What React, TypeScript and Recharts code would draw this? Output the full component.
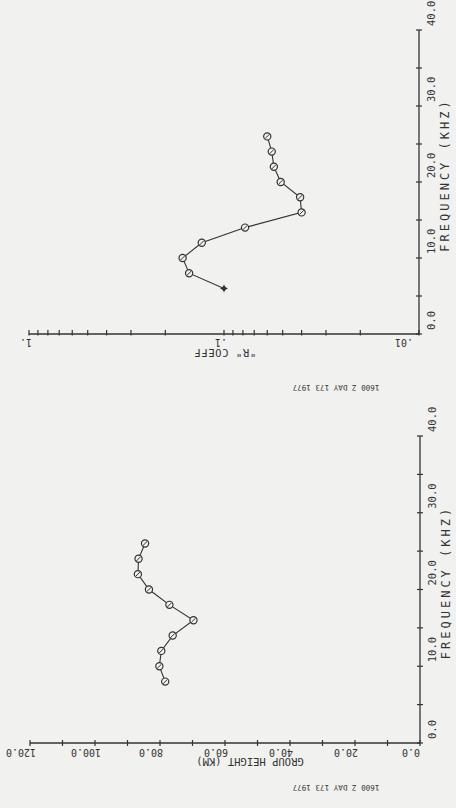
import { ScatterChart, Scatter, XAxis, YAxis } from 'recharts';

const BG = '#f1f1ef';
const INK = '#333333';
const FONT = '"DejaVu Sans Mono", "Liberation Mono", monospace';

// upper plot: "R" coefficient vs frequency
const freqR = [6, 8, 10, 12, 14, 16, 18, 20, 22, 24, 26];
const rCoeff = [0.1, 0.151, 0.163, 0.13, 0.078, 0.04, 0.0407, 0.0512, 0.0555, 0.0569, 0.06];

// lower plot: group height vs frequency
const freqH = [8, 10, 12, 14, 16, 18, 20, 22, 24, 26];
const groupHeight = [78.4, 80.2, 79.6, 76.1, 69.7, 77.1, 83.4, 86.8, 86.6, 84.6];

const freqTicks = [0, 5, 10, 15, 20, 25, 30, 35, 40];
const heightTicks = [0, 10, 20, 30, 40, 50, 60, 70, 80, 90, 100, 110, 120];
const rTicks = [
  0.01, 0.02, 0.03, 0.04, 0.05, 0.06, 0.07, 0.08, 0.09,
  0.1, 0.2, 0.3, 0.4, 0.5, 0.6, 0.7, 0.8, 0.9, 1,
];
const rMajor = [0.01, 0.1, 1];
const rMajorLabels = ['.01', '.1', '1.'];

const stamp = '1600 Z DAY 173 1977';

const rData = freqR.map((f, i) => ({ f, r: rCoeff[i] }));
const hData = freqH.map((f, i) => ({ f, h: groupHeight[i] }));

const FreqTick = ({ x, y, payload }: any) => {
  const v = payload.value;
  const tx = x + 12;
  const ty = y - 4;
  return (
    <g>
      <line x1={x - 3} x2={x + 3} y1={y} y2={y} stroke={INK} strokeWidth={1.2} />
      {v % 10 === 0 && (
        <text
          x={tx}
          y={ty}
          transform={`rotate(-90, ${tx}, ${ty})`}
          textAnchor="start"
          dominantBaseline="central"
          fontFamily={FONT}
          fontSize={10.5}
          fill={INK}
        >
          {v.toFixed(1)}
        </text>
      )}
    </g>
  );
};

const HeightTick = ({ x, y, payload }: any) => {
  const v = payload.value;
  const tx = x - 9;
  const ty = y + 9;
  return (
    <g>
      <line x1={x} x2={x} y1={y - 3} y2={y + 3} stroke={INK} strokeWidth={1.2} />
      {v % 20 === 0 && (
        <text
          x={tx}
          y={ty}
          transform={`rotate(180, ${tx}, ${ty})`}
          textAnchor="middle"
          dominantBaseline="central"
          fontFamily={FONT}
          fontSize={10}
          fill={INK}
        >
          {v.toFixed(1)}
        </text>
      )}
    </g>
  );
};

const LogTick = ({ x, y, payload }: any) => {
  const v = payload.value;
  const k = rMajor.findIndex((m) => Math.abs(m - v) < 1e-9);
  const tx = k === 0 ? x - 6 : x + 3;
  const ty = y + 8;
  return (
    <g>
      <line x1={x} x2={x} y1={y - 4} y2={y + 1.5} stroke={INK} strokeWidth={1.2} />
      {k >= 0 && (
        <text
          x={tx}
          y={ty}
          transform={`rotate(180, ${tx}, ${ty})`}
          textAnchor="start"
          dominantBaseline="central"
          fontFamily={FONT}
          fontSize={10}
          fill={INK}
        >
          {rMajorLabels[k]}
        </text>
      )}
    </g>
  );
};

const Mark = ({ cx, cy, payload }: any) => {
  if (payload && payload.f === freqR[0] && payload.r !== undefined) {
    // first R point drawn as a filled star
    const s = 4;
    return (
      <g>
        <path
          d={`M${cx},${cy - s} L${cx + 1.3},${cy - 1.3} L${cx + s},${cy} L${cx + 1.3},${cy + 1.3} L${cx},${cy + s} L${cx - 1.3},${cy + 1.3} L${cx - s},${cy} L${cx - 1.3},${cy - 1.3} Z`}
          fill={INK}
        />
        <circle cx={cx} cy={cy} r={2} fill={INK} />
      </g>
    );
  }
  return (
    <g>
      <circle cx={cx} cy={cy} r={3.6} fill={BG} stroke={INK} strokeWidth={1.2} />
      <line x1={cx - 2.2} y1={cy + 2.2} x2={cx + 2.2} y2={cy - 2.2} stroke={INK} strokeWidth={1} />
    </g>
  );
};

const xTitle = (text: string, dx: number, dy: number, spacing: number) => (p: any) => {
  const vb = p.viewBox;
  const cx = vb.x + vb.width / 2 + dx;
  const cy = vb.y + dy;
  return (
    <text
      x={cx}
      y={cy}
      transform={`rotate(180, ${cx}, ${cy})`}
      textAnchor="middle"
      dominantBaseline="central"
      fontFamily={FONT}
      fontSize={10.5}
      letterSpacing={spacing}
      fill={INK}
    >
      {text}
    </text>
  );
};

const freqTitle = (p: any) => {
  const vb = p.viewBox;
  const cx = vb.x + 26;
  const cy = vb.y + vb.height / 2 - 7;
  return (
    <text
      x={cx}
      y={cy}
      transform={`rotate(-90, ${cx}, ${cy})`}
      textAnchor="middle"
      dominantBaseline="central"
      fontFamily={FONT}
      fontSize={12}
      letterSpacing={3}
      fill={INK}
    >
      FREQUENCY (KHZ)
    </text>
  );
};

const Stamp = ({ top }: { top: number }) => (
  <div
    style={{
      position: 'absolute',
      left: 292,
      top,
      width: 88,
      textAlign: 'center',
      transform: 'rotate(180deg)',
      fontFamily: FONT,
      fontSize: 7.6,
      lineHeight: '9px',
      color: INK,
      whiteSpace: 'nowrap',
    }}
  >
    {stamp}
  </div>
);

export default function App() {
  return (
    <div style={{ position: 'absolute', left: 0, top: 0, width: 456, height: 808, background: BG, overflow: 'hidden' }}>
      <div style={{ position: 'absolute', left: 0, top: 0 }}>
        <ScatterChart width={456} height={400} margin={{ top: 30, right: 0, bottom: 0, left: 29 }}>
          <XAxis
            type="number"
            dataKey="r"
            scale="log"
            domain={[0.01, 1]}
            allowDataOverflow
            reversed
            ticks={rTicks}
            interval={0}
            height={66}
            tickSize={0}
            tickMargin={0}
            tickLine={false}
            axisLine={{ stroke: INK, strokeWidth: 1.3 }}
            tick={<LogTick />}
            label={{ content: xTitle('"R" COEFF', 1, 19, 0.6) }}
          />
          <YAxis
            type="number"
            dataKey="f"
            orientation="right"
            domain={[0, 40]}
            ticks={freqTicks}
            interval={0}
            width={37}
            tickSize={0}
            tickMargin={0}
            tickLine={false}
            axisLine={{ stroke: INK, strokeWidth: 1.3 }}
            tick={<FreqTick />}
            label={{ content: freqTitle }}
          />
          <Scatter
            data={rData}
            isAnimationActive={false}
            line={{ stroke: INK, strokeWidth: 1.1 }}
            lineType="joint"
            shape={<Mark />}
          />
        </ScatterChart>
      </div>
      <div style={{ position: 'absolute', left: 0, top: 400 }}>
        <ScatterChart width={456} height={408} margin={{ top: 36, right: 0, bottom: 0, left: 30 }}>
          <XAxis
            type="number"
            dataKey="h"
            domain={[0, 120]}
            reversed
            ticks={heightTicks}
            interval={0}
            height={65}
            tickSize={0}
            tickMargin={0}
            tickLine={false}
            axisLine={{ stroke: INK, strokeWidth: 1.3 }}
            tick={<HeightTick />}
            label={{ content: xTitle('GROUP HEIGHT (KM)', 25, 19, 0) }}
          />
          <YAxis
            type="number"
            dataKey="f"
            orientation="right"
            domain={[0, 40]}
            ticks={freqTicks}
            interval={0}
            width={36}
            tickSize={0}
            tickMargin={0}
            tickLine={false}
            axisLine={{ stroke: INK, strokeWidth: 1.3 }}
            tick={<FreqTick />}
            label={{ content: freqTitle }}
          />
          <Scatter
            data={hData}
            isAnimationActive={false}
            line={{ stroke: INK, strokeWidth: 1.1 }}
            lineType="joint"
            shape={<Mark />}
          />
        </ScatterChart>
      </div>
      <Stamp top={383} />
      <Stamp top={783} />
    </div>
  );
}
